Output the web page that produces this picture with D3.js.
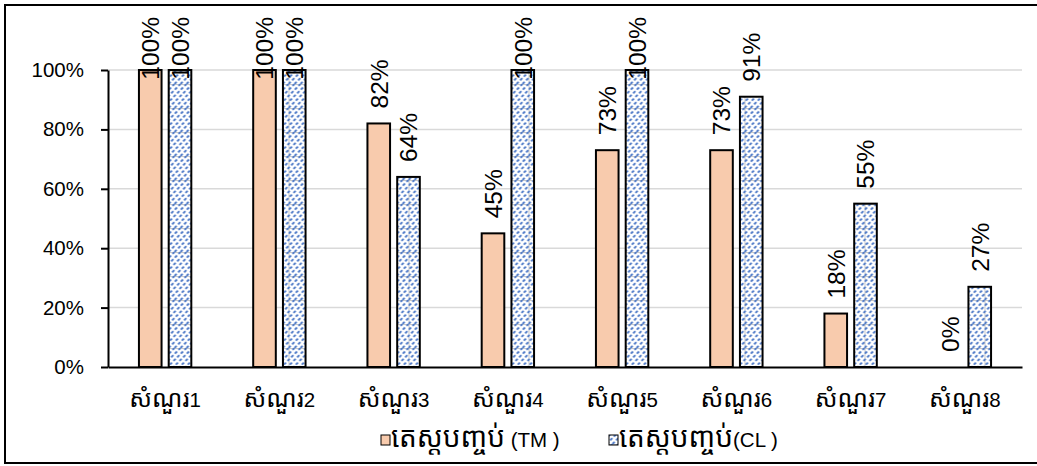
<!DOCTYPE html>
<html>
<head>
<meta charset="utf-8">
<script src="https://cdn.jsdelivr.net/npm/d3@7"></script>
<style>
  html, body { margin: 0; padding: 0; background: #fff; }
  svg { display: block; }
</style>
</head>
<body>
<svg id="chart" width="1037" height="466"></svg>
<script>
// Question labels along the x axis
const categories = ["សំណួរ1", "សំណួរ2", "សំណួរ3", "សំណួរ4", "សំណួរ5", "សំណួរ6", "សំណួរ7", "សំណួរ8"];
// Share of correct answers (%)
const tmValues = [100, 100, 82, 45, 73, 73, 18, 0];
const clValues = [100, 100, 64, 100, 100, 91, 55, 27];
const seriesNames = ["តេស្តបញ្ចប់ (TM )", "តេស្តបញ្ចប់(CL )"];
const yTicks = [0, 20, 40, 60, 80, 100];

const FONT = "'Liberation Sans', 'Noto Sans', 'Noto Sans Khmer', sans-serif";
const svg = d3.select("#chart");
const margin = { left: 108, right: 1022, top: 70, bottom: 367 };

const x = d3.scaleBand().domain(categories).range([margin.left, margin.right]);
const xs = d3.scaleBand().domain([0, 1]).range([0, x.bandwidth()]).paddingInner(0.24).paddingOuter(1.04);
const y = d3.scaleLinear().domain([0, 100]).range([margin.bottom, margin.top]);

// Split a mixed string into Khmer and non-Khmer runs so each can get its own size
function runs(str) {
  const out = [];
  for (const ch of str) {
    const km = /[\u1780-\u17FF]/.test(ch);
    if (out.length && out[out.length - 1].km === km) out[out.length - 1].t += ch;
    else out.push({ km, t: ch });
  }
  return out;
}
function fillRuns(sel, str, kmSize, latSize) {
  sel.text(null);
  runs(str).forEach(r => {
    sel.append("tspan").attr("font-size", r.km ? kmSize : latSize).text(r.t);
  });
}

// Fill pattern for the CL series: light grid with blue dashed diagonals
const defs = svg.append("defs");
const pat = defs.append("pattern")
  .attr("id", "clPattern")
  .attr("patternUnits", "userSpaceOnUse")
  .attr("width", 24).attr("height", 24)
  .attr("x", 0.5).attr("y", 12);
pat.append("rect").attr("width", 24).attr("height", 24).attr("fill", "#fff");
pat.append("path").attr("d", "M0,0.5H24M0.5,0V24").attr("stroke", "#c8c8c8").attr("stroke-width", 1);
for (let k = 0; k <= 8; k++) {
  pat.append("line")
    .attr("x1", k * 6 - 24).attr("y1", 24)
    .attr("x2", k * 6).attr("y2", 0)
    .attr("stroke", "#4472c4")
    .attr("stroke-width", 1.8)
    .attr("stroke-dasharray", "3 2.2");
}

// Outer frame
svg.append("rect")
  .attr("x", 5).attr("y", 5).attr("width", 1040).attr("height", 458)
  .attr("fill", "none").attr("stroke", "#000").attr("stroke-width", 2);

// Horizontal gridlines
svg.append("g").selectAll("line").data(yTicks.filter(d => d > 0)).join("line")
  .attr("x1", margin.left).attr("x2", margin.right)
  .attr("y1", d => y(d)).attr("y2", d => y(d))
  .attr("stroke", "#d9d9d9").attr("stroke-width", 1.5);

// Y axis
const yAxis = d3.axisLeft(y).tickValues(yTicks).tickFormat(d => d + "%").tickSize(7).tickSizeOuter(0);
const yg = svg.append("g").attr("transform", `translate(${margin.left},0)`).call(yAxis);
yg.select(".domain").attr("stroke", "#000").attr("stroke-width", 2);
yg.selectAll(".tick line").attr("stroke", "#000").attr("stroke-width", 2);
yg.selectAll(".tick text")
  .attr("x", -24)
  .attr("font-family", FONT).attr("font-size", 20.5).attr("fill", "#000");

// Bars
const series = [
  { values: tmValues, fill: "#f8cbad" },
  { values: clValues, fill: "url(#clPattern)" }
];

const barG = svg.append("g");
series.forEach((s, si) => {
  barG.selectAll(null).data(categories).join("rect")
    .attr("x", c => x(c) + xs(si))
    .attr("width", xs.bandwidth())
    .attr("y", (c, i) => y(s.values[i]))
    .attr("height", (c, i) => y(0) - y(s.values[i]))
    .attr("fill", s.fill)
    .attr("stroke", "#000")
    .attr("stroke-width", 2)
    .attr("display", (c, i) => s.values[i] > 0 ? null : "none");
});

// X axis line and category labels
const xAxis = d3.axisBottom(x).tickSize(0).tickSizeOuter(0);
const xg = svg.append("g").attr("transform", `translate(0,${margin.bottom})`).call(xAxis);
xg.select(".domain").attr("stroke", "#000").attr("stroke-width", 2);
xg.selectAll(".tick text")
  .attr("y", 40).attr("dy", 0)
  .attr("font-family", FONT).attr("fill", "#000")
  .each(function (d) { fillRuns(d3.select(this), d, 24.5, 20.5); });

// Rotated value labels above each bar; labels that would leave the frame are pulled down
const labelSize = 24.5;
series.forEach((s, si) => {
  categories.forEach((c, i) => {
    const cx = x(c) + xs(si) + xs.bandwidth() / 2;
    const t = svg.append("text")
      .attr("font-family", FONT).attr("font-size", labelSize).attr("fill", "#000")
      .attr("dy", "0.36em")
      .text(s.values[i] + "%");
    const w = t.node().getComputedTextLength();
    const base = Math.max(y(s.values[i]) - 15, 17 + w);
    t.attr("transform", `translate(${cx},${base}) rotate(-90)`);
  });
});

// Legend
const legend = svg.append("g").attr("font-family", FONT);
const lx = [381, 609];
series.forEach((s, si) => {
  legend.append("rect")
    .attr("x", lx[si]).attr("y", 435).attr("width", 9).attr("height", 10)
    .attr("fill", s.fill).attr("stroke", "#000").attr("stroke-width", 1);
  const t = legend.append("text")
    .attr("x", lx[si] + 10).attr("y", 447)
    .attr("fill", "#000");
  fillRuns(t, seriesNames[si], 28, 20.5);
});
</script>
</body>
</html>
